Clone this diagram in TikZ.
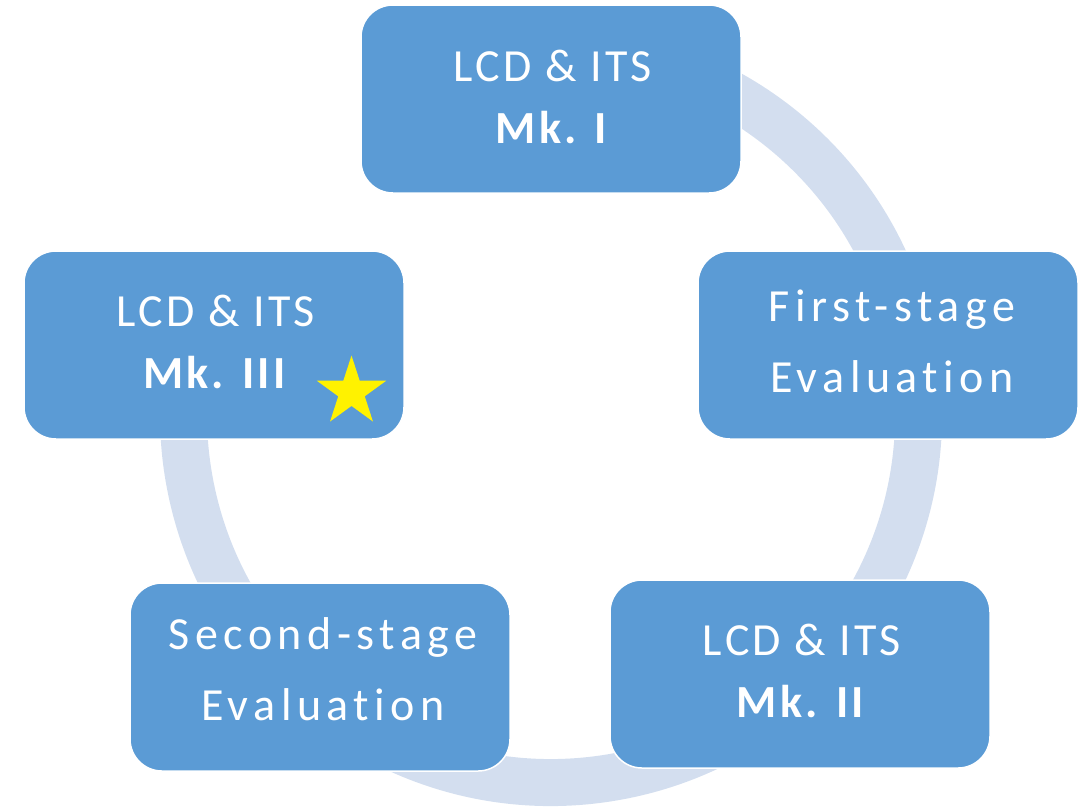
\documentclass[tikz,border=0pt]{standalone}
\usepackage{fontspec}
\setmainfont{Carlito}[LetterSpace=7, Ligatures=NoCommon]
\newfontfamily\evalfont{Carlito}[LetterSpace=12, Ligatures=NoCommon]
\usetikzlibrary{shapes.geometric,calc}
\definecolor{boxblue}{HTML}{5B9BD5}
\definecolor{ringblue}{HTML}{D3DEEF}
\begin{document}
\begin{tikzpicture}[x=1pt,y=-1pt,
  stagebox/.style={draw=white, line width=1.5pt, fill=boxblue, rounded corners=32pt,
    minimum width=380pt, minimum height=188pt, inner sep=0pt},
  marktext/.style={text=white, align=center, inner sep=0pt,
    font=\fontsize{46}{62.4}\selectfont},
  evaltext/.style={text=white, align=center, inner sep=0pt,
    font=\evalfont\fontsize{46}{70.7}\selectfont},
  starmark/.style={star, star points=5, star point ratio=2.618, fill=yellow, draw=none,
    minimum size=73pt, inner sep=0pt}
]
\useasboundingbox (0,0) rectangle (1084,807);
\coordinate (c) at (551,415);
\draw[ringblue, line width=47pt] ($(c)+(100:367.5pt)$) arc[start angle=100, end angle=-200, radius=367.5pt];
\node[stagebox] (mk1) at (551,99) {};
\node[stagebox] (eval1) at (888,345) {};
\node[stagebox] (mk2) at (800,674) {};
\node[stagebox] (eval2) at (320,677) {};
\node[stagebox] (mk3) at (214,345) {};
\node[marktext] (mk1t) at (553,96.7) {LCD \& ITS\\\textbf{Mk. I}};
\node[evaltext] (eval1t) at (892,341) {First-stage\\Evaluation};
\node[marktext] (mk2t) at (802,671) {LCD \& ITS\\\textbf{Mk. II}};
\node[evaltext] (eval2t) at (323,669) {Second-stage\\Evaluation};
\node[marktext] (mk3t) at (216,342) {LCD \& ITS\\\textbf{Mk. III}};
\node[starmark] (star) at (351.5,392) {};
\end{tikzpicture}
\end{document}
